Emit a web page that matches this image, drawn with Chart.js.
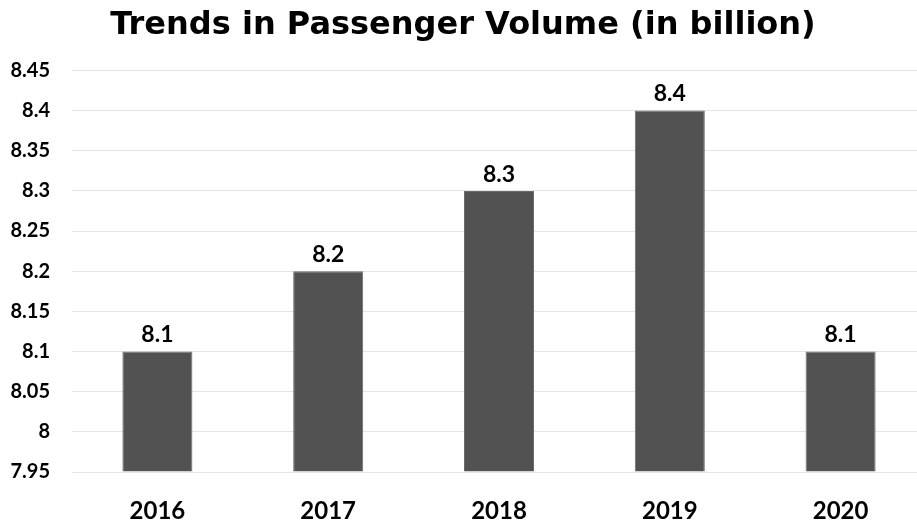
<html>
<head>
  <script src="https://cdn.jsdelivr.net/npm/chart.js@4.4.0/dist/chart.umd.min.js"></script>
</head>
<body style="padding: 0; margin: 0; overflow: hidden; background: #fff;">

<canvas id="chart" width="926" height="522"></canvas>

<script>
  const years = ['2016', '2017', '2018', '2019', '2020']
  const passengers = [8.1, 8.2, 8.3, 8.4, 8.1]
  const yMin = 7.95
  const yMax = 8.45
  const yStep = 0.05

  const fmt = v => String(+v.toFixed(2))

  // draw the value above each bar
  const barLabels = {
    id: 'barLabels',
    afterDatasetsDraw(chart) {
      const ctx = chart.ctx
      const meta = chart.getDatasetMeta(0)
      ctx.save()
      ctx.font = 'bold 23px Lato'
      ctx.fillStyle = '#000'
      ctx.textAlign = 'center'
      ctx.textBaseline = 'bottom'
      meta.data.forEach((bar, i) => {
        ctx.fillText(fmt(passengers[i]), bar.x, bar.y - 5)
      })
      ctx.restore()
    }
  }

  new Chart(document.getElementById('chart').getContext('2d'), {
    type: 'bar',
    data: {
      labels: years,
      datasets: [{
        data: passengers,
        backgroundColor: '#525252',
        borderColor: '#6b6b6b',
        borderWidth: 1,
        barPercentage: 0.41,
        categoryPercentage: 1,
        base: yMin,
      }]
    },
    options: {
      responsive: false,
      animation: false,
      layout: {padding: 0},
      plugins: {
        legend: {display: false},
        tooltip: {enabled: false},
        title: {
          display: true,
          text: 'Trends in Passenger Volume (in billion)',
          font: {family: 'DejaVu Sans', size: 32, weight: 'bold'},
          color: '#000',
          padding: {top: 6, bottom: 26},
        }
      },
      scales: {
        x: {
          grid: {display: false},
          border: {display: false},
          ticks: {font: {family: 'Lato', size: 24, weight: 'bold'}, color: '#000', padding: 17},
          afterFit: s => { s.height = 50 }
        },
        y: {
          min: yMin,
          max: yMax,
          grid: {color: '#e4e4e4', drawTicks: false},
          border: {display: false},
          ticks: {
            stepSize: yStep,
            font: {family: 'Lato', size: 20, weight: 'bold'},
            color: '#000',
            padding: 22,
            callback: v => fmt(v)
          },
          afterFit: s => { s.width = 72 }
        }
      }
    },
    plugins: [barLabels]
  })
</script>
</body>
</html>
